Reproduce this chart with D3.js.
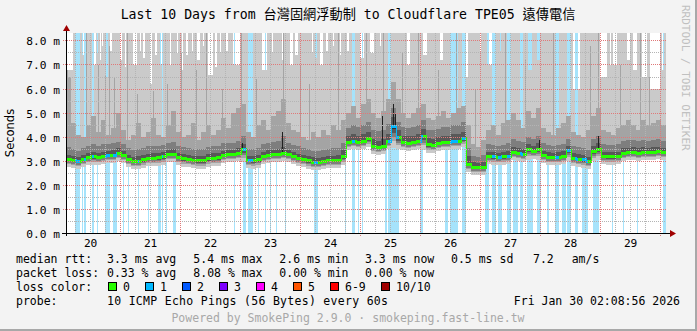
<!DOCTYPE html>
<html><head><meta charset="utf-8">
<script src="https://cdn.jsdelivr.net/npm/d3@7"></script>
<style>
body{margin:0;background:#f3f3f3}
svg{display:block}
text{font-family:"DejaVu Sans Mono","Noto Sans CJK TC",monospace;white-space:pre}
</style>
</head><body><svg id="c" width="697" height="331"></svg>
<script>
// ---------------- DATA ----------------
// 10 days ending Fri Jan 30 02:08:56 2026, values in 2-hour bins (120 bins)
const startTime = Date.UTC(2026,0,20,2,8,56);
const endTime   = Date.UTC(2026,0,30,2,8,56);
const binHours  = 2;
const dayLabels = ["20","21","22","23","24","25","26","27","28","29"];
const yTicks = [0,1,2,3,4,5,6,7,8];

// median rtt (ms)
const median = [3.10,3.05,3.00,3.10,3.18,3.20,3.18,3.22,3.25,3.28,
3.34,3.25,3.10,3.00,3.02,3.08,3.14,3.15,3.16,3.20,
3.30,3.32,3.18,3.12,3.10,3.06,3.04,3.04,3.12,3.15,
3.16,3.25,3.30,3.30,3.35,3.50,3.05,3.04,3.08,3.22,
3.28,3.30,3.30,3.35,3.30,3.22,3.14,3.10,3.04,2.98,
2.96,3.00,3.05,3.06,3.06,3.20,3.80,3.86,3.80,3.85,
3.95,3.65,3.60,3.65,3.85,4.45,4.00,3.80,3.78,3.80,
3.85,4.05,3.70,3.68,3.75,3.80,3.80,3.85,3.85,3.95,
2.90,2.78,2.75,2.78,3.22,3.20,3.18,3.20,3.22,3.40,
3.34,3.32,3.50,3.42,3.52,3.25,3.18,3.17,3.18,3.22,
3.45,3.15,3.10,3.08,3.00,3.42,3.52,3.22,3.20,3.20,
3.22,3.35,3.38,3.40,3.36,3.40,3.38,3.40,3.42,3.38];

// lowest ping (ms)
const pingMin = [2.76,2.71,2.66,2.76,2.84,2.86,2.84,2.88,2.91,2.94,
3.00,2.91,2.76,2.66,2.68,2.74,2.80,2.81,2.82,2.86,
2.96,2.98,2.84,2.78,2.76,2.72,2.70,2.70,2.78,2.81,
2.82,2.91,2.96,2.96,3.01,2.98,2.71,2.70,2.74,2.88,
2.94,2.96,2.96,3.01,2.96,2.88,2.80,2.76,2.70,2.64,
2.62,2.66,2.71,2.72,2.72,2.86,3.46,3.52,3.46,3.51,
3.61,3.31,3.26,3.31,3.51,3.55,3.50,3.46,3.44,3.46,
3.51,3.45,3.36,3.34,3.41,3.46,3.46,3.51,3.51,3.61,
2.56,2.44,2.41,2.44,2.88,2.86,2.84,2.86,2.88,3.06,
3.00,2.98,3.05,3.08,3.05,2.91,2.84,2.83,2.84,2.88,
3.00,2.81,2.76,2.74,2.66,3.00,3.05,2.88,2.86,2.86,
2.88,3.01,3.04,3.06,3.02,3.06,3.04,3.06,3.08,3.04];

// 7th of 10 sorted pings
const ping7 = [3.28,3.22,3.18,3.28,3.36,3.38,3.36,3.40,3.42,3.46,
3.54,3.44,3.28,3.18,3.21,3.26,3.32,3.34,3.34,3.38,
3.48,3.50,3.36,3.30,3.28,3.24,3.22,3.22,3.30,3.34,
3.34,3.44,3.48,3.48,3.56,3.72,3.24,3.22,3.26,3.40,
3.46,3.48,3.50,3.60,3.48,3.40,3.32,3.28,3.22,3.16,
3.14,3.18,3.24,3.24,3.26,3.46,4.05,4.12,4.06,4.12,
4.22,3.92,3.86,3.92,4.14,4.85,4.28,4.06,4.04,4.06,
4.12,4.34,3.96,3.94,4.00,4.06,4.06,4.12,4.12,4.22,
3.20,2.96,2.93,2.96,3.40,3.38,3.36,3.38,3.42,3.60,
3.54,3.52,3.70,3.62,3.74,3.44,3.37,3.36,3.37,3.41,
3.64,3.33,3.29,3.27,3.19,3.62,3.76,3.40,3.38,3.38,
3.40,3.54,3.57,3.59,3.55,3.59,3.57,3.59,3.61,3.57];

// 8th of 10 sorted pings
const ping8 = [3.60,3.50,3.42,3.55,3.65,3.70,3.62,3.72,3.70,3.75,
3.82,3.72,3.55,3.45,3.50,3.55,3.62,3.65,3.62,3.68,
3.78,3.82,3.65,3.58,3.55,3.52,3.50,3.52,3.60,3.64,
3.62,3.74,3.78,3.76,3.85,4.05,3.52,3.50,3.55,3.70,
3.75,3.80,3.85,4.05,3.78,3.68,3.62,3.56,3.50,3.44,
3.42,3.46,3.52,3.54,3.56,3.75,4.40,4.50,4.42,4.50,
4.62,4.30,4.25,4.30,4.55,5.20,4.65,4.42,4.40,4.42,
4.50,4.70,4.30,4.28,4.35,4.42,4.42,4.50,4.50,4.62,
3.55,3.22,3.18,3.26,3.70,3.66,3.64,3.68,3.74,3.92,
3.84,3.80,4.02,3.92,4.06,3.74,3.66,3.64,3.66,3.72,
3.94,3.64,3.58,3.56,3.48,3.92,4.06,3.72,3.68,3.68,
3.72,3.84,3.88,3.88,3.84,3.88,3.86,3.88,3.92,3.86];

// 9th of 10 sorted pings
const ping9 = [6.5,4.6,4.1,4.0,4.5,4.9,4.2,4.7,4.1,4.4,
5.0,4.3,3.9,4.1,4.6,4.0,4.2,4.8,4.1,4.0,
4.5,5.1,4.2,4.0,4.1,4.6,3.9,4.2,4.5,4.1,
4.3,4.8,4.4,5.0,5.2,5.4,4.2,4.0,4.5,4.7,
4.3,4.9,5.1,5.6,4.6,4.3,4.2,4.0,3.9,4.2,
4.0,4.3,4.1,4.5,4.3,4.7,5.0,5.3,4.8,5.4,
5.6,5.0,4.8,5.1,5.6,6.3,5.6,5.0,4.8,5.0,
5.2,5.4,4.8,4.7,4.9,5.1,4.8,5.0,5.2,5.3,
4.5,3.7,3.6,3.9,4.3,4.5,4.1,4.6,4.7,5.0,
4.7,4.4,5.1,4.8,5.2,4.4,4.2,4.1,4.4,4.6,
4.9,4.2,4.1,4.0,4.3,4.9,5.2,4.3,4.2,4.1,
4.4,4.5,4.7,4.5,4.3,4.7,4.5,4.6,4.7,4.5];

// single 24-minute steps where the 9th ping shoots up: [hour, ms]
const ping9Spikes = [[0.4,8.5],[8.0,8.5],[12.8,7.0],[15.6,6.6],[17.2,7.8],[19.2,6.5],[24.4,8.5],
[28.4,5.8],[34.8,5.9],[40.4,6.2],[46.0,7.5],[52.0,6.8],[56.0,8.5],[62.4,6.0],[70.0,8.5],[76.0,6.4],
[86.8,8.5],[93.6,7.0],[97.2,6.2],[108.8,8.5],[120.0,8.5],[126.8,8.5],[134.4,7.5],[140.8,8.5],
[148.8,6.8],[156.0,8.5],[163.6,6.0],[175.6,8.5],[183.6,7.2],[194.8,8.5],[209.6,7.8],[212.8,8.5],
[221.6,7.0],[229.6,8.5],[233.2,6.5]];

// stretches where the highest ping stays below the graph top: [fromHour, toHour, maxPing ms]
const maxPingDips = [[0,2.8,6.8],[6.4,7.2,7.4],[10.8,12.0,7.0],[12.4,12.8,7.5],[13.6,14.0,7.2],[14.4,14.8,7.8],
[16.0,16.8,6.5],[17.6,18.4,7.6],[21.6,22.4,7.2],[23.6,24.0,6.9],[26.8,28.4,7.0],[29.6,30.0,7.6],[30.8,31.6,7.3],
[33.6,34.4,6.2],[35.6,36.4,7.4],[37.6,38.8,7.0],[41.6,42.0,7.0],[44.4,44.8,7.5],[46.4,46.8,6.8],[48.0,48.8,7.4],
[50.4,50.8,7.6],[52.4,53.6,7.2],[54.8,55.2,7.8],[56.8,58.8,6.6],[59.6,60.4,6.9],[61.6,62.0,7.5],[64.0,64.8,7.6],
[66.8,69.6,7.0],[78.4,80.4,6.8],[82.4,82.8,7.5],[86.4,86.8,7.2],[89.6,90.8,7.0],[91.6,92.8,7.4],[98.4,98.8,7.5],
[99.6,100.4,7.3],[101.6,102.8,7.0],[104.0,104.8,7.6],[106.8,107.2,7.8],[109.6,110.0,7.4],
[112.4,113.2,7.6],[117.6,119.2,7.3],[121.6,123.2,7.5],[125.6,126.0,7.8],[136.4,137.6,7.0],
[142.8,144.4,7.4],[149.6,150.8,7.2],[159.6,160.8,6.5],[165.6,166.0,7.5],[168.4,170.4,7.0],
[173.6,174.0,7.6],[184.8,186.4,6.8],[188.4,189.6,7.2],[202.8,205.6,6.0],[213.6,216.4,6.5],[217.6,218.0,7.0],
[218.8,220.4,7.0],[224.4,225.6,7.2],[226.8,228.4,6.8],[230.4,232.4,6.5],[233.6,237.6,6.0],[238.4,239.2,6.8]];

// short bursts where the 6th ping jumps well above the median: [hour, ms]
const ping6Spikes = [[70.4,3.75],[86.4,4.2],[126.4,4.9],[130.8,5.4],[131.6,5.0],[189.2,3.9],[212.8,4.05]];

// packet loss: [fromHour, toHour, lost pings of 10]
const lossPeriods = [[3.6,5.6,1],[6.4,6.8,0.4],[7.2,8.0,1],[10.4,11.2,1],[12.4,12.8,0.4],
[15.6,17.6,0.6],[18.8,20.4,0.6],[22.8,23.2,0.4],[24.8,25.2,0.4],[28.8,29.2,0.6],[32.8,33.2,0.4],
[36.8,38.0,0.4],[38.4,38.8,1],[40.0,40.4,0.4],[42.8,44.0,0.4],[67.2,67.6,0.4],[70.8,72.0,0.6],
[72.8,74.8,1],[76.8,77.2,0.4],[79.6,80.0,0.4],[81.6,82.0,0.4],[84.0,84.4,0.4],[87.6,88.0,0.4],
[99.2,100.8,0.6],[111.6,112.0,0.4],[114.4,115.6,1],[116.8,117.2,0.4],[118.4,118.8,0.4],
[127.6,128.4,0.4],[128.8,130.0,1],[130.0,133.2,0.6],[141.6,142.8,0.6],[151.6,152.8,0.4],[153.6,156.8,1],
[158.4,160.0,1],[167.6,169.2,0.4],[170.4,172.0,1],[172.8,174.4,0.6],[176.4,178.0,1],
[178.8,180.8,0.4],[181.6,182.8,1],[184.4,186.8,0.4],[188.4,190.0,0.4],[192.4,193.2,0.4],
[195.6,197.2,1],[198.4,200.0,0.4],[200.4,202.0,1],[203.6,204.8,1],[206.4,208.8,0.6],
[210.8,213.2,0.4],[218.4,218.8,0.4],[222.8,223.2,0.4],[228.4,228.8,0.4],[238.8,240.0,0.4]];

const lossLegend = [["0","#26ff00"],["1","#00b8ff"],["2","#0059ff"],["3","#7e00ff"],
["4","#ff00ff"],["5","#ff5500"],["6-9","#ff0000"],["10/10","#a00000"]];

// ---------------- CHART ----------------
const svg = d3.select("#c");
const W = 697, H = 331;
const PL = 66, PR = 666, PT = 33, PB = 233;
svg.append("rect").attr("width",W).attr("height",H).attr("fill","#f3f3f3");
svg.append("rect").attr("x",0).attr("y",H-2).attr("width",W).attr("height",2).attr("fill","#a8a8a8");
svg.append("rect").attr("x",W-2).attr("y",0).attr("width",2).attr("height",H).attr("fill","#a8a8a8");

const x = d3.scaleUtc().domain([startTime,endTime]).range([PL,PR]);
const y = d3.scaleLinear().domain([0,8.35]).range([233.5,32.5]);
const H2MS = 3600e3;
const colMs = 24*60e3;
const nCols = Math.round((endTime-startTime)/colMs);

const defs = svg.append("defs");
defs.append("clipPath").attr("id","plot").append("rect")
  .attr("x",PL).attr("y",PT).attr("width",PR-PL).attr("height",PB-PT);
const g = defs.append("linearGradient").attr("id","lowSmoke").attr("x1",0).attr("y1",0).attr("x2",0).attr("y2",1);
[[0,"#323232"],[0.12,"#323232"],[0.12,"#585858"],[0.3,"#585858"],[0.3,"#7e7e7e"],[0.48,"#7e7e7e"],
 [0.48,"#a4a4a4"],[0.66,"#a4a4a4"],[0.66,"#cacaca"],[1,"#cacaca"]].forEach(s=>
  g.append("stop").attr("offset",s[0]).attr("stop-color",s[1]));

svg.append("rect").attr("x",PL).attr("y",PT).attr("width",PR-PL).attr("height",PB-PT).attr("fill","#fff");
const plot = svg.append("g").attr("clip-path","url(#plot)").attr("shape-rendering","crispEdges");

function findRange(list,h){ for(const r of list){ if(h>=r[0]&&h<r[1]) return r; } return null; }
const topVal = y.domain()[1]+1;
const colOfHour = h => Math.floor(h*H2MS/colMs + 1e-6);
const spike9 = new Map(ping9Spikes.map(d=>[colOfHour(d[0]),d[1]]));
const cols = d3.range(nCols).map(c=>{
  const t = startTime + c*colMs;
  const h = (t - startTime)/H2MS + 0.2;
  const b = Math.min(median.length-1, Math.floor(((t-startTime)/H2MS)/binHours));
  const dip = findRange(maxPingDips,h);
  const loss = findRange(lossPeriods,h);
  const hi = dip ? dip[2] : topVal;
  const p9 = spike9.has(c) ? Math.max(ping9[b],spike9.get(c)) : ping9[b];
  return {c,t,b,x0:x(t),x1:x(t+colMs),hi,loss:loss?loss[2]:0,
    med:median[b],lo:pingMin[b],p7:Math.min(ping7[b],hi),p8:Math.min(ping8[b],hi),p9:Math.min(p9,hi)};
});

function colRects(data,yTop,yBot,fill){
  plot.append("g").selectAll("rect").data(data).join("rect")
    .attr("x",d=>Math.round(d.x0)).attr("width",d=>Math.max(1,Math.round(d.x1)-Math.round(d.x0)))
    .attr("y",d=>Math.round(y(yTop(d)))).attr("height",d=>Math.max(0,Math.round(y(yBot(d)))-Math.round(y(yTop(d)))))
    .attr("fill",fill);
}
colRects(cols.filter(d=>d.loss>0),()=>topVal,()=>0,"#a6e3fb");          // loss bars
colRects(cols.filter(d=>d.loss<1),d=>d.hi,d=>d.lo,"#cacaca");           // ping1..ping10
colRects(cols,d=>d.p9,d=>d.med,"#a4a4a4");                               // ..ping9
colRects(cols,d=>d.p8,d=>d.med,"#7e7e7e");                               // ..ping8
colRects(cols,d=>d.p7,d=>d.med,"#585858");                               // ..ping7
colRects(cols,d=>d.med,d=>d.lo,"url(#lowSmoke)");
plot.append("g").selectAll("rect").data(ping6Spikes).join("rect")
  .attr("x",d=>Math.round(x(startTime+d[0]*H2MS))).attr("width",1)
  .attr("y",d=>Math.round(y(d[1])))
  .attr("height",d=>{const b=Math.floor(d[0]/binHours);return Math.round(y(median[b]))-Math.round(y(d[1]));})
  .attr("fill","#202020");

function lossColor(n){ const r=Math.round(n); if(r<=0) return lossLegend[0][1]; if(r<=5) return lossLegend[r][1]; if(r<10) return lossLegend[6][1]; return lossLegend[7][1]; }
plot.append("g").selectAll("rect").data(cols).join("rect")
  .attr("x",d=>Math.round(d.x0)).attr("width",d=>Math.max(1,Math.round(d.x1)-Math.round(d.x0)))
  .attr("y",(d,i)=>{const ym=Math.round(y(d.med)); const yp=i>0?Math.round(y(cols[i-1].med)):ym; return Math.min(ym,yp)-1;})
  .attr("height",(d,i)=>{const ym=Math.round(y(d.med)); const yp=i>0?Math.round(y(cols[i-1].med)):ym; return Math.abs(ym-yp)+3;})
  .attr("fill",d=>lossColor(d.loss));

// grid on top
const grid = svg.append("g").attr("shape-rendering","crispEdges");
const minorX = d3.utcHour.every(6).range(new Date(startTime),new Date(endTime)).filter(d=>d.getUTCHours()!==0);
const majorX = d3.utcDay.range(new Date(startTime),new Date(endTime));
grid.selectAll(".mx").data(minorX).join("line")
  .attr("x1",d=>Math.floor(x(d))+0.5).attr("x2",d=>Math.floor(x(d))+0.5).attr("y1",PT).attr("y2",PB)
  .attr("stroke","#b4b4b4").attr("stroke-dasharray","1,1");
grid.selectAll(".my").data(d3.range(0.5,8.35,1)).join("line")
  .attr("y1",d=>Math.floor(y(d))+0.5).attr("y2",d=>Math.floor(y(d))+0.5).attr("x1",PL).attr("x2",PR)
  .attr("stroke","#b4b4b4").attr("stroke-dasharray","1,1");
grid.selectAll(".Mx").data(majorX).join("line")
  .attr("x1",d=>Math.floor(x(d))+0.5).attr("x2",d=>Math.floor(x(d))+0.5).attr("y1",PT).attr("y2",PB+3)
  .attr("stroke","#e07878").attr("stroke-dasharray","1,1");
grid.selectAll(".My").data(yTicks.filter(v=>v>0)).join("line")
  .attr("y1",d=>Math.floor(y(d))+0.5).attr("y2",d=>Math.floor(y(d))+0.5).attr("x1",PL-3).attr("x2",PR)
  .attr("stroke","#e07878").attr("stroke-dasharray","1,1");

// axes
const ax = svg.append("g").attr("shape-rendering","crispEdges");
ax.append("line").attr("x1",PL-4).attr("x2",PR+4).attr("y1",233.5).attr("y2",233.5).attr("stroke","#000");
ax.append("line").attr("x1",PL+0.5).attr("x2",PL+0.5).attr("y1",PB+3).attr("y2",PT-4).attr("stroke","#000");
svg.append("path").attr("d",`M${PL-3},${PT-2}L${PL+0.5},${PT-8}L${PL+4},${PT-2}Z`).attr("fill","#a00000");
svg.append("path").attr("d",`M${PR+4},${230}L${PR+10},${233.5}L${PR+4},${237}Z`).attr("fill","#a00000");

svg.append("g").selectAll("text").data(yTicks).join("text")
  .attr("x",60).attr("y",d=>Math.floor(y(d))+4.5).attr("text-anchor","end")
  .attr("font-size","11.2px").text(d=>d3.format(".1f")(d)+" m");
svg.append("g").selectAll("text").data(dayLabels).join("text")
  .attr("x",(d,i)=>x(Date.UTC(2026,0,20+i,12))).attr("y",247).attr("text-anchor","middle")
  .attr("font-size","11.2px").text(d=>d);

svg.append("text").attr("x",348).attr("y",19).attr("text-anchor","middle").attr("font-size","13.2px")
  .text("Last 10 Days from 台灣固網浮動制 to Cloudflare TPE05 遠傳電信");
svg.append("text").attr("transform","translate(14,133) rotate(-90)").attr("text-anchor","middle")
  .attr("font-size","11.5px").style("font-family","'DejaVu Sans',sans-serif").text("Seconds");
svg.append("text").attr("transform","translate(682,5) rotate(90)").attr("font-size","11px")
  .attr("fill","#c0c0c0").text("RRDTOOL / TOBI OETIKER");

const L = svg.append("g").attr("font-size","11.5px");
const row = (yy,items)=>items.forEach(([xx,t])=>L.append("text").attr("x",xx).attr("y",yy).text(t));
row(263,[[16,"median rtt:"],[107,"3.3 ms avg"],[193.3,"5.4 ms max"],[279.3,"2.6 ms min"],[365,"3.3 ms now"],[451,"0.5 ms sd"],[533,"7.2"],[571.7,"am/s"]]);
row(277,[[16,"packet loss:"],[107,"0.33 % avg"],[193.3,"8.08 % max"],[279.3,"0.00 % min"],[365,"0.00 % now"]]);
row(291,[[16,"loss color:"]]);
const boxX = [108,145,182,219,256,293,330,381];
lossLegend.forEach(([lab,col],i)=>{
  L.append("rect").attr("x",boxX[i]+0.5).attr("y",282.5).attr("width",8).attr("height",8).attr("fill",col).attr("stroke","#000");
  L.append("text").attr("x",boxX[i]+15).attr("y",291).text(lab);
});
row(305,[[16,"probe:"]]);
L.append("text").attr("x",107).attr("y",305).attr("textLength",281).text("10 ICMP Echo Pings (56 Bytes) every 60s");
L.append("text").attr("x",680).attr("y",305).attr("text-anchor","end").text("Fri Jan 30 02:08:56 2026");
L.append("text").attr("x",348).attr("y",322).attr("text-anchor","middle").attr("fill","#a8a8a8")
  .text("Powered by SmokePing 2.9.0 · smokeping.fast-line.tw");
</script>
</body></html>
